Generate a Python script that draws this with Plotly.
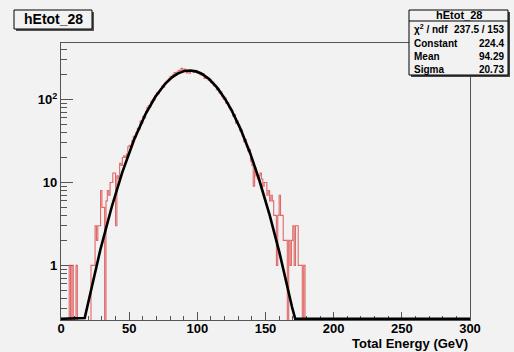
import numpy as np
import plotly.graph_objects as go

# ---------------- data ----------------
hist_name = "hEtot_28"
x_title = "Total Energy (GeV)"
bin_width = 1.0
x_range = [0, 300]
y_range = [0.219, 481]

# counts per 1-GeV bin, starting at 0 GeV
counts = [
    0, 0, 0, 0, 0, 0, 1, 0, 1, 0,            # 0-9
    0, 1, 0, 0, 0, 0, 0, 0, 0, 0,            # 10-19
    0, 0, 1, 1, 1, 3, 2, 3, 3, 8,            # 20-29
    5, 5, 0, 6, 8, 7, 10, 10, 13, 13,        # 30-39
    3, 12, 11, 17, 16, 20, 21, 20, 22, 27,   # 40-49
    28, 27, 32, 36, 35, 40, 45, 44, 55, 52,  # 50-59
    63, 60, 72, 80, 84, 82, 95, 100, 99, 112,        # 60-69
    121, 118, 127, 136, 146, 141, 158, 166, 172, 181,  # 70-79
    191, 186, 200, 212, 198, 215, 226, 221, 238, 216,  # 80-89
    233, 228, 210, 222, 208, 219, 224, 212, 221, 223,  # 90-99
    208, 214, 200, 196, 204, 180, 190, 178, 171, 176,  # 100-109
    160, 162, 146, 149, 131, 136, 120, 124, 109, 101,  # 110-119
    104, 90, 92, 80, 75, 74, 63, 66, 52, 55,           # 120-129
    50, 42, 43, 36, 31, 33, 27, 24, 25, 18,            # 130-139
    16, 9, 15, 12, 11, 12, 13, 11, 9, 10,              # 140-149
    10, 7, 8, 6, 7, 6, 4, 4, 1, 4,                     # 150-159
    7, 4, 4, 2, 2, 2, 0, 2, 1, 2,                      # 160-169
    3, 1, 3, 3, 1, 1, 1, 0, 1, 0,                      # 170-179
    0,                                                 # 180
]

fit_constant = 224.4
fit_mean = 94.29
fit_sigma = 20.73
fit_chi2 = 237.5
fit_ndf = 153

x_tick_vals = [0, 50, 100, 150, 200, 250, 300]
x_minor_vals = [v for v in range(0, 301, 10) if v % 50]
y_tick_vals = [1, 10, 100]
y_tick_text = ["1", "10", "10<sup>2</sup>"]
y_minor_vals = [0.3, 0.4, 0.5, 0.6, 0.7, 0.8, 0.9,
                2, 3, 4, 5, 6, 7, 8, 9,
                20, 30, 40, 50, 60, 70, 80, 90,
                200, 300, 400]

# ---------------- styling ----------------
BG = "#f2f2f2"
RED = "rgba(222,80,80,0.85)"
FONT = "Liberation Sans, Arial, Helvetica, sans-serif"

W, H = 514, 352
L, R, T, B = 61, 470, 43, 320   # plot frame in pixels


def px(xp):
    return (xp - L) / (R - L)


def py(yp):
    return (B - yp) / (B - T)


# histogram as step line
edges = np.arange(len(counts) + 1) * bin_width
cnt = np.array(counts, dtype=float)
cnt_draw = np.where(cnt > 0, cnt, 1e-3)
hx = edges
hy = np.append(cnt_draw, 1e-3)

# fit curve (gaussian with the fitted parameters), clipped at the frame bottom
fx = np.linspace(x_range[0], x_range[1], 1501)
fy = fit_constant * np.exp(-0.5 * ((fx - fit_mean) / fit_sigma) ** 2)
fy = np.maximum(fy, y_range[0] * 10 ** (1.2 / 83))

fig = go.Figure()
fig.add_trace(go.Scatter(x=hx, y=hy, mode="lines", line=dict(color=RED, width=1.1, shape="hv"),
                         hoverinfo="skip", showlegend=False))
fig.add_trace(go.Scatter(x=fx, y=fy, mode="lines", line=dict(color="black", width=2.6),
                         hoverinfo="skip", showlegend=False))

axis_font = dict(family=FONT, size=13, color="black", weight="bold")

fig.update_xaxes(
    range=x_range, showgrid=False, zeroline=False,
    showline=True, linecolor="#555555", linewidth=1.2, mirror=True,
    ticks="inside", ticklen=8, tickwidth=1, tickcolor="#555555",
    tickvals=x_tick_vals, ticktext=[str(v) for v in x_tick_vals],
    minor=dict(ticks="inside", ticklen=4, tickwidth=1, tickcolor="#555555", tickvals=x_minor_vals),
    tickfont=axis_font, layer="below traces", ticklabelstandoff=-4,
)
fig.update_yaxes(
    type="log", range=[np.log10(y_range[0]), np.log10(y_range[1])],
    showgrid=False, zeroline=False,
    showline=True, linecolor="#555555", linewidth=1.2, mirror=True,
    ticks="inside", ticklen=12, tickwidth=1, tickcolor="#555555",
    tickvals=y_tick_vals, ticktext=y_tick_text,
    minor=dict(ticks="inside", ticklen=6, tickwidth=1, tickcolor="#555555", tickvals=y_minor_vals),
    tickfont=axis_font, layer="below traces",
)

shapes = []
annotations = []

# title box (top-left) with shadow
shapes.append(dict(type="rect", xref="paper", yref="paper", x0=px(16), x1=px(94), y0=py(31), y1=py(12),
                   fillcolor="#555555", line=dict(width=0), layer="above"))
shapes.append(dict(type="rect", xref="paper", yref="paper", x0=px(14), x1=px(92), y0=py(29), y1=py(10),
                   fillcolor=BG, line=dict(color="black", width=1), layer="above"))
annotations.append(dict(xref="paper", yref="paper", x=px(53), y=py(19.5), text=hist_name, showarrow=False,
                        xanchor="center", yanchor="middle",
                        font=dict(family=FONT, size=14, color="black", weight="bold")))

# stats box (top-right) with shadow
sx0, sx1, sy0, sy1 = 409, 508, 10, 75
shapes.append(dict(type="rect", xref="paper", yref="paper", x0=px(sx0 + 2), x1=px(sx1 + 2), y0=py(sy1 + 2), y1=py(sy0 + 2),
                   fillcolor="#444444", line=dict(width=0), layer="above"))
shapes.append(dict(type="rect", xref="paper", yref="paper", x0=px(sx0), x1=px(sx1), y0=py(sy1), y1=py(sy0),
                   fillcolor=BG, line=dict(color="black", width=1), layer="above"))
shapes.append(dict(type="line", xref="paper", yref="paper", x0=px(sx0), x1=px(sx1), y0=py(21), y1=py(21),
                   line=dict(color="black", width=1), layer="above"))
annotations.append(dict(xref="paper", yref="paper", x=px((sx0 + sx1) / 2), y=py(15.5), text=hist_name,
                        showarrow=False, xanchor="center", yanchor="middle",
                        font=dict(family=FONT, size=11, color="black", weight="bold")))
stat_rows = [
    ("\u03c7<sup>2</sup> / ndf", f"{fit_chi2:.1f} / {fit_ndf}"),
    ("Constant", f"{fit_constant:.1f}"),
    ("Mean", f"{fit_mean:.2f}"),
    ("Sigma", f"{fit_sigma:.2f}"),
]
row_y = [29.5, 43, 56, 69]
for (lab, val), yy in zip(stat_rows, row_y):
    annotations.append(dict(xref="paper", yref="paper", x=px(412), y=py(yy), text=lab, showarrow=False,
                            xanchor="left", yanchor="middle",
                            font=dict(family=FONT, size=10, color="black", weight="bold")))
    annotations.append(dict(xref="paper", yref="paper", x=px(506), y=py(yy), text=val, showarrow=False,
                            xanchor="right", yanchor="middle",
                            font=dict(family=FONT, size=10, color="black", weight="bold")))

# x axis title (right aligned, ROOT style)
annotations.append(dict(xref="paper", yref="paper", x=1.0, y=py(343), text=x_title, showarrow=False,
                        xanchor="right", yanchor="middle",
                        font=dict(family=FONT, size=13, color="black", weight="bold")))

fig.update_layout(
    width=W, height=H,
    margin=dict(l=L, r=W - R, t=T, b=H - B, pad=0),
    paper_bgcolor=BG, plot_bgcolor=BG,
    shapes=shapes, annotations=annotations,
    showlegend=False,
)

fig.write_html("out.html", config={"displayModeBar": False},
               post_script="document.body.style.margin='0';document.body.style.padding='0';"
                           "document.body.style.background='" + BG + "';")
